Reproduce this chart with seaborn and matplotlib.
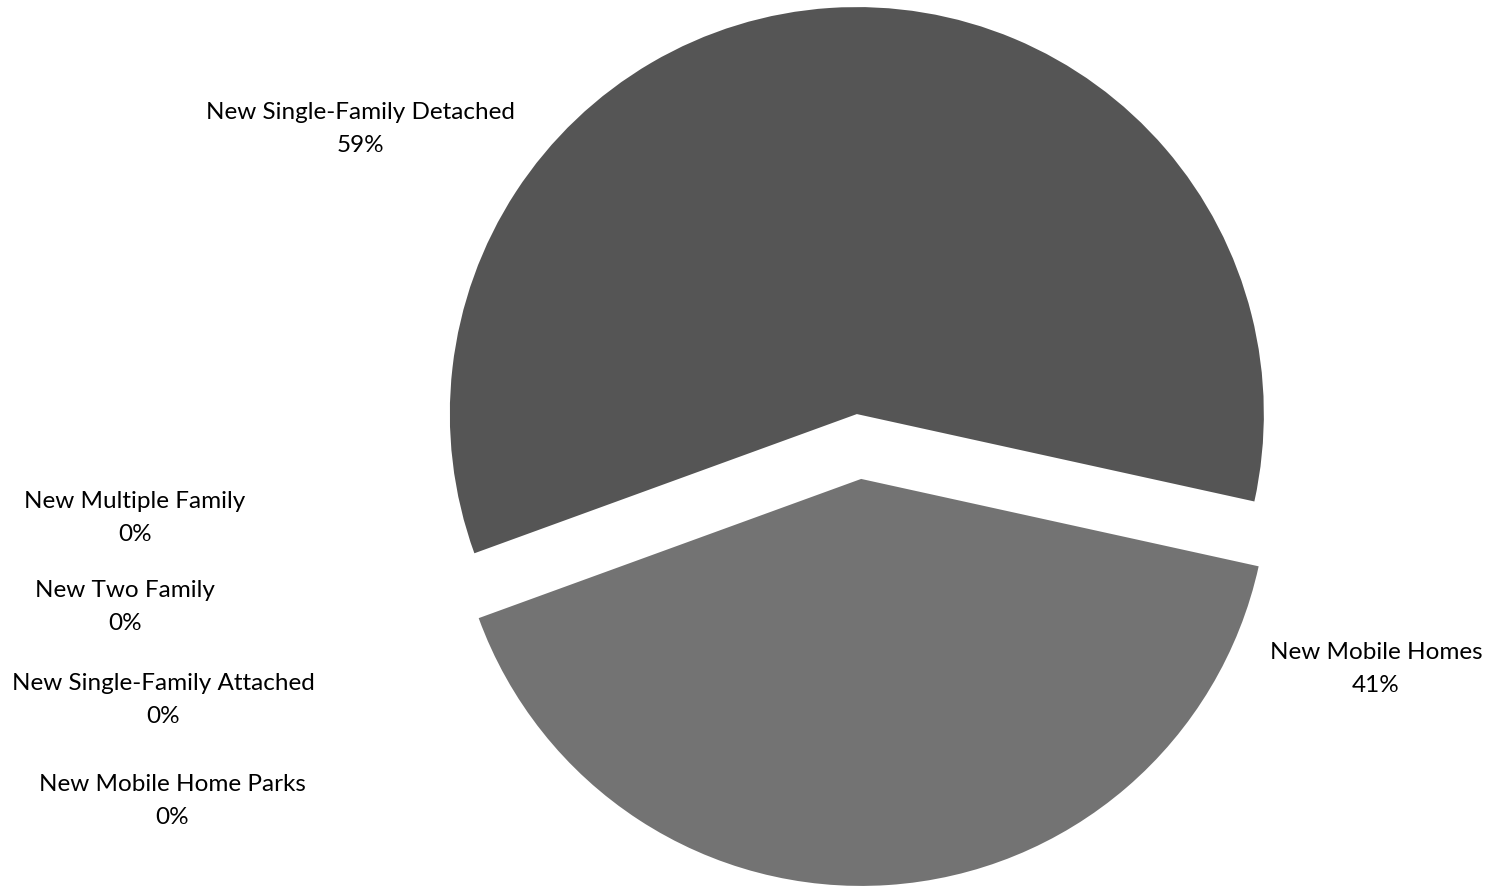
import matplotlib
matplotlib.use("Agg")
import matplotlib.pyplot as plt
import seaborn as sns

# Share of new housing units by type
categories = [
    "New Single-Family Detached",
    "New Mobile Homes",
    "New Mobile Home Parks",
    "New Single-Family Attached",
    "New Two Family",
    "New Multiple Family",
]
shares = [59, 41, 0, 0, 0, 0]
slice_colors = ["#555555", "#737373", "#8c8c8c", "#a6a6a6", "#bfbfbf", "#d9d9d9"]

# Label anchor points (figure pixels, origin top-left)
label_xy = [
    (360, 129),
    (1376, 669),
    (172, 801),
    (163, 700),
    (125, 607),
    (135, 518),
]

sns.set_theme(style="white")
plt.rcParams["font.family"] = ["Lato", "DejaVu Sans"]

W, H = 1488, 887
fig = plt.figure(figsize=(W / 100, H / 100), dpi=100)
ax = fig.add_axes([0, 0, 1, 1])

ax.pie(
    shares,
    colors=slice_colors,
    startangle=200,
    counterclock=False,
    center=(859, H - 447.5),
    radius=407,
    explode=[32.5] * len(shares),
    wedgeprops=dict(linewidth=0, edgecolor="none"),
)
ax.set_xlim(0, W)
ax.set_ylim(0, H)
ax.set_aspect("equal")
ax.axis("off")

for name, val, (lx, ly) in zip(categories, shares, label_xy):
    ax.text(lx, H - ly, f"{name}\n{val}%", ha="center", va="center",
            multialignment="center", fontsize=17.5, color="#000000",
            linespacing=1.72)

fig.savefig("out.png", dpi=100, facecolor="white")
